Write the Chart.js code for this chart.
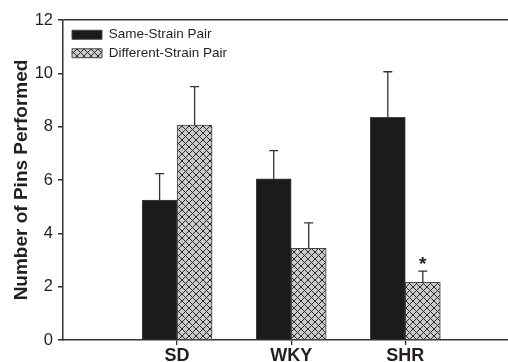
<!DOCTYPE html>
<html>
<head>
<meta charset="utf-8">
<script src="https://cdn.jsdelivr.net/npm/chart.js@4/dist/chart.umd.min.js"></script>
<style>
  html, body { margin: 0; padding: 0; background: #fff; overflow: hidden; }
  #wrap { width: 508px; height: 362px; position: relative; }
</style>
</head>
<body>
<div id="wrap"><canvas id="grafico"></canvas></div>
<script>
const categorias = ['SD', 'WKY', 'SHR'];
const mismaCepa = [5.25, 6.04, 8.35];
const mismaCepaErr = [0.99, 1.06, 1.71];
const distintaCepa = [8.06, 3.44, 2.16];
const distintaCepaErr = [1.44, 0.95, 0.42];
const marcas = ['', '', '*'];
const ticksY = [0, 2, 4, 6, 8, 10, 12];

Chart.defaults.font.family = "'Liberation Sans', Arial, Helvetica, sans-serif";
Chart.defaults.color = '#231f20';

// relleno cuadriculado (crosshatch) para las barras grises
function crearTrama() {
  const c = document.createElement('canvas');
  c.width = 7; c.height = 7;
  const g = c.getContext('2d');
  g.fillStyle = '#c9c9c9';
  g.fillRect(0, 0, 7, 7);
  g.strokeStyle = '#2b2b2b';
  g.lineWidth = 1;
  g.beginPath();
  g.moveTo(0, 0); g.lineTo(7, 7);
  g.moveTo(7, 0); g.lineTo(0, 7);
  g.stroke();
  return g.createPattern(c, 'repeat');
}
const trama = crearTrama();

const puntos = (vals) => vals.map((v, i) => ({ x: i + 1, y: v }));

// la leyenda va dentro del area del grafico, arriba a la izquierda
const leyendaPlugin = {
  id: 'leyendaDentro',
  afterLayout(chart) {
    const l = chart.legend;
    if (!l) return;
    l.left = chart.chartArea.left + 4;
    l.top = chart.chartArea.top + 3;
  }
};

// barras de error (solo hacia arriba) y asterisco
const erroresPlugin = {
  id: 'errores',
  afterDatasetsDraw(chart) {
    const ctx = chart.ctx;
    const y = chart.scales.y;
    const errs = [mismaCepaErr, distintaCepaErr];
    const vals = [mismaCepa, distintaCepa];
    ctx.save();
    ctx.strokeStyle = '#333';
    ctx.lineWidth = 1.3;
    chart.data.datasets.forEach((ds, d) => {
      const meta = chart.getDatasetMeta(d);
      meta.data.forEach((bar, i) => {
        const top = y.getPixelForValue(vals[d][i] + errs[d][i]);
        ctx.beginPath();
        ctx.moveTo(bar.x, bar.y);
        ctx.lineTo(bar.x, top);
        ctx.moveTo(bar.x - 4.5, top);
        ctx.lineTo(bar.x + 4.5, top);
        ctx.stroke();
        if (d === 1 && marcas[i]) {
          ctx.fillStyle = '#231f20';
          ctx.font = "bold 19px 'Liberation Sans', Arial, sans-serif";
          ctx.textAlign = 'center';
          ctx.textBaseline = 'alphabetic';
          ctx.fillText(marcas[i], bar.x, top - 1);
        }
      });
    });
    ctx.restore();
  }
};

new Chart(document.getElementById('grafico'), {
  type: 'bar',
  data: {
    datasets: [{
      label: 'Same-Strain Pair',
      data: puntos(mismaCepa),
      backgroundColor: '#1c1a1b',
      borderColor: '#444',
      borderWidth: 1
    }, {
      label: 'Different-Strain Pair',
      data: puntos(distintaCepa),
      backgroundColor: trama,
      borderColor: '#444',
      borderWidth: 1
    }]
  },
  options: {
    responsive: true,
    maintainAspectRatio: false,
    animation: false,
    barThickness: 35,
    layout: { padding: { top: 20, left: 0, right: 0, bottom: 0 } },
    plugins: {
      tooltip: { enabled: false },
      legend: {
        position: 'chartArea',
        align: 'start',
        labels: {
          boxWidth: 30,
          boxHeight: 9,
          padding: 5,
          font: { size: 13.5 },
          color: '#231f20'
        }
      }
    },
    scales: {
      x: {
        type: 'linear',
        min: 0,
        max: 3.9,
        offset: false,
        afterBuildTicks: (s) => { s.ticks = categorias.map((c, i) => ({ value: i + 1 })); },
        ticks: {
          callback: (v) => categorias[v - 1] || '',
          font: { size: 18, weight: 'bold' },
          color: '#231f20',
          padding: 0,
          maxRotation: 0,
          autoSkip: false
        },
        grid: { offset: false, drawOnChartArea: false, tickLength: 5, tickColor: '#333', lineWidth: 1.3 },
        border: { color: '#333', width: 1.5 },
        afterFit: (s) => { s.height = 22; }
      },
      y: {
        min: 0,
        max: 12,
        afterBuildTicks: (s) => { s.ticks = ticksY.map(v => ({ value: v })); },
        ticks: { font: { size: 16.5 }, color: '#231f20', padding: 5 },
        grid: {
          color: (c) => (c.tick && c.tick.value === 12 ? '#333' : 'rgba(0,0,0,0)'),
          tickColor: '#333',
          tickLength: 5,
          lineWidth: 1.5
        },
        border: { color: '#333', width: 1.5 },
        title: {
          display: true,
          text: 'Number of Pins Performed',
          font: { size: 19, weight: 'bold' },
          color: '#231f20',
          padding: { top: 10, bottom: 0 }
        },
        afterFit: (s) => { s.width = 63; }
      }
    }
  },
  plugins: [leyendaPlugin, erroresPlugin]
});
</script>
</body>
</html>
